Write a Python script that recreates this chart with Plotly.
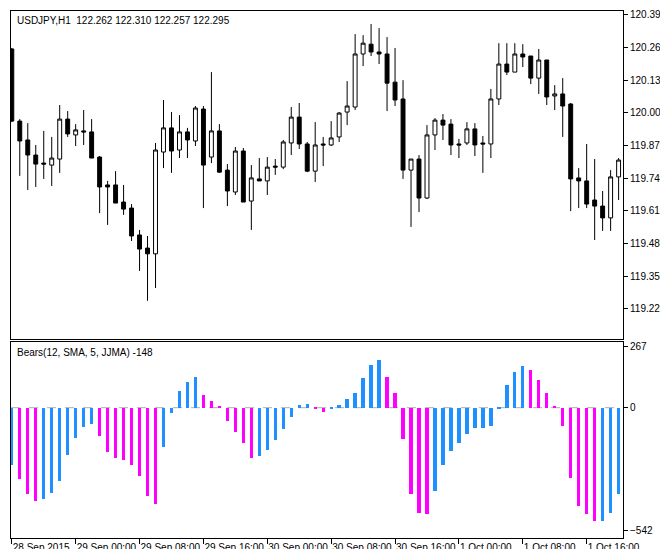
"""USDJPY H1 candles with a Bears histogram underneath, MetaTrader style."""

import plotly.graph_objs as go

# bar index 0 = 28 Sep 2015 16:00, one bar per hour
opens = [120.254, 119.967, 119.892, 119.832, 119.800, 119.792, 119.816, 119.975, 119.912, 119.928,
         119.924, 119.824, 119.713, 119.713, 119.645, 119.621, 119.514, 119.462, 119.439, 119.844,
         119.940, 119.852, 119.924, 119.888, 120.015, 119.824, 119.928, 119.772, 119.685, 119.848,
         119.649, 119.737, 119.729, 119.788, 119.784, 119.880, 119.983, 119.876, 119.768, 119.876,
         119.872, 119.904, 120.003, 120.023, 120.234, 120.273, 120.242, 120.234, 120.122, 120.055,
         119.772, 119.816, 119.661, 119.912, 119.971, 119.955, 119.876, 119.880, 119.936, 119.880,
         119.876, 120.055, 120.194, 120.162, 120.234, 120.226, 120.138, 120.210, 120.067, 120.075,
         120.035, 119.741, 119.729, 119.653, 119.629, 119.582, 119.745]
highs = [120.258, 119.975, 119.959, 119.872, 119.928, 119.904, 120.031, 120.007, 119.955, 120.011,
         119.975, 119.828, 119.729, 119.768, 119.713, 119.637, 119.534, 119.510, 119.880, 120.051,
         120.003, 119.991, 119.940, 120.027, 120.027, 120.162, 119.955, 119.796, 119.864, 119.860,
         119.792, 119.820, 119.824, 119.816, 119.892, 120.023, 120.039, 119.884, 119.963, 119.904,
         119.967, 120.003, 120.126, 120.313, 120.309, 120.353, 120.337, 120.301, 120.258, 120.130,
         119.816, 119.832, 119.951, 119.979, 119.995, 119.975, 119.896, 119.963, 119.959, 119.908,
         120.095, 120.277, 120.277, 120.277, 120.273, 120.226, 120.254, 120.210, 120.110, 120.138,
         120.039, 119.780, 119.876, 119.816, 119.689, 119.772, 119.820]
lows = [119.963, 119.749, 119.693, 119.705, 119.737, 119.709, 119.761, 119.904, 119.868, 119.872,
        119.820, 119.601, 119.554, 119.641, 119.594, 119.490, 119.371, 119.252, 119.303, 119.780,
        119.761, 119.820, 119.820, 119.868, 119.621, 119.800, 119.761, 119.629, 119.673, 119.645,
        119.534, 119.729, 119.673, 119.753, 119.776, 119.832, 119.856, 119.764, 119.725, 119.788,
        119.868, 119.884, 119.951, 120.011, 120.186, 120.226, 120.194, 120.007, 120.027, 119.737,
        119.546, 119.605, 119.657, 119.852, 119.892, 119.832, 119.820, 119.872, 119.828, 119.761,
        119.820, 120.031, 120.150, 120.162, 120.182, 120.114, 120.075, 120.031, 120.011, 119.904,
        119.609, 119.621, 119.621, 119.494, 119.530, 119.530, 119.653]
closes = [119.967, 119.888, 119.832, 119.796, 119.796, 119.820, 119.975, 119.916, 119.932, 119.924,
          119.820, 119.705, 119.705, 119.641, 119.617, 119.510, 119.458, 119.439, 119.852, 119.940,
          119.848, 119.924, 119.892, 120.019, 119.792, 119.928, 119.764, 119.689, 119.848, 119.645,
          119.741, 119.729, 119.784, 119.784, 119.884, 119.983, 119.876, 119.768, 119.872, 119.872,
          119.900, 119.999, 120.027, 120.234, 120.277, 120.242, 120.234, 120.118, 120.051, 119.772,
          119.816, 119.661, 119.912, 119.971, 119.951, 119.872, 119.872, 119.936, 119.872, 119.876,
          120.055, 120.194, 120.162, 120.234, 120.222, 120.138, 120.210, 120.063, 120.075, 120.027,
          119.737, 119.729, 119.637, 119.629, 119.582, 119.745, 119.812]

bears = [-254, -312, -378, -408, -400, -374, -324, -207, -132, -84,
         -70, -123, -194, -220, -229, -251, -302, -390, -422, -172,
         -22, 72, 111, 136, 57, 28, 4, -57, -106, -154,
         -220, -211, -185, -141, -92, -40, 10, 18, -3, -18,
         -3, 13, 40, 66, 132, 189, 212, 136, 66, -139,
         -381, -464, -469, -364, -254, -192, -157, -117, -91, -87,
         -82, -7, 101, 158, 185, 167, 123, 66, 4, -82,
         -311, -430, -469, -500, -496, -464, -381]

time_ticks = [0, 8, 16, 24, 32, 40, 48, 56, 64, 72]
time_labels = ['28 Sep 2015', '29 Sep 00:00', '29 Sep 08:00', '29 Sep 16:00',
               '30 Sep 00:00', '30 Sep 08:00', '30 Sep 16:00', '1 Oct 00:00',
               '1 Oct 08:00', '1 Oct 16:00']
price_ticks = [120.390, 120.260, 120.130, 120.000, 119.870, 119.740,
               119.610, 119.480, 119.350, 119.220]
bears_ticks = [267, 0, -542]

idx = list(range(len(opens)))
FONT = dict(family='Liberation Sans', size=10, color='black')

# magenta while the histogram falls, blue while it rises
colors = ['#1E90FF'] + ['#FF00FF' if b < a else '#1E90FF'
                        for a, b in zip(bears[:-1], bears[1:])]

candles = go.Candlestick(
    x=idx, open=opens, high=highs, low=lows, close=closes,
    increasing=dict(fillcolor='white', line=dict(color='black', width=1)),
    decreasing=dict(fillcolor='black', line=dict(color='black', width=1)),
    whiskerwidth=0, xaxis='x', yaxis='y', hoverinfo='skip')

hist = go.Bar(x=idx, y=bears, marker=dict(color=colors, line=dict(width=0)),
              width=0.42, xaxis='x2', yaxis='y2', hoverinfo='skip')

fig = go.Figure([candles, hist])

axis_common = dict(showline=True, linecolor='black', linewidth=1, mirror=True,
                   showgrid=False, zeroline=False, tickfont=FONT,
                   automargin=False)
fig.update_layout(
    width=668, height=549, paper_bgcolor='white', plot_bgcolor='white',
    margin=dict(l=3, r=53, t=3, b=19), showlegend=False, bargap=0,
    xaxis=dict(axis_common, range=[-0.1, 76.55], showticklabels=False,
               ticks='', rangeslider=dict(visible=False), anchor='y'),
    xaxis2=dict(axis_common, range=[-0.1, 76.55], matches='x', anchor='y2',
                tickvals=time_ticks, ticktext=time_labels, ticks='outside',
                ticklen=5, tickcolor='black', tickangle=0,
                ticklabelposition='outside right'),
    yaxis=dict(axis_common, domain=[0.378, 1], range=[119.101, 120.405],
               side='right', tickvals=price_ticks,
               ticktext=['%.3f' % v for v in price_ticks],
               ticks='outside', ticklen=4, tickcolor='black', anchor='x'),
    yaxis2=dict(axis_common, domain=[0, 0.372], range=[-573, 289],
                side='right', tickvals=bears_ticks, ticks='outside',
                ticklen=4, tickcolor='black', anchor='x2'),
)

fig.add_shape(type='line', xref='x2 domain', yref='y2', x0=0, x1=1, y0=0, y1=0,
              line=dict(color='#b0b0b0', width=1, dash='dash'), layer='below')

fig.add_annotation(text='USDJPY,H1  122.262 122.310 122.257 122.295',
                   xref='paper', yref='paper', x=0.006, y=0.997,
                   xanchor='left', yanchor='top', showarrow=False, font=FONT)
fig.add_annotation(text='Bears(12, SMA, 5, JJMA) -148',
                   xref='paper', yref='paper', x=0.006, y=0.366,
                   xanchor='left', yanchor='top', showarrow=False, font=FONT)

fig.write_html('out.html')
